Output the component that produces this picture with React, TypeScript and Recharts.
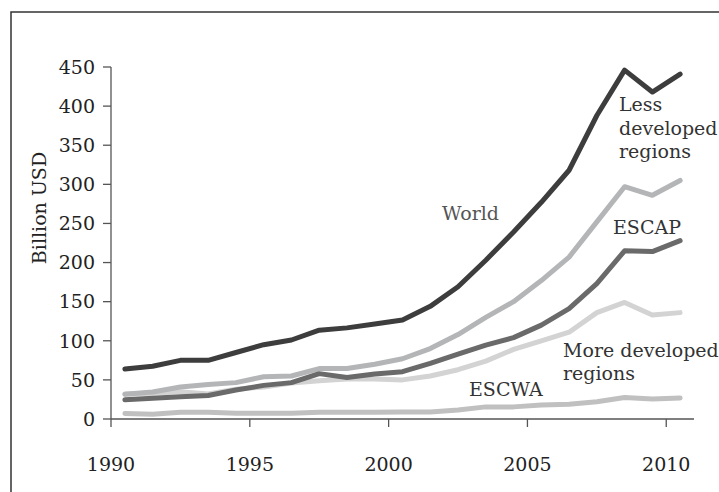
import React from "react";
import { LineChart, Line, XAxis, YAxis } from "recharts";

const years = [1990, 1991, 1992, 1993, 1994, 1995, 1996, 1997, 1998, 1999, 2000, 2001, 2002, 2003, 2004, 2005, 2006, 2007, 2008, 2009, 2010];
const world = [64, 67.5, 75, 75, 85, 95, 101, 113.5, 116.5, 121.5, 126.5, 144, 169, 203, 239, 277, 318, 388, 446, 418, 441];
const lessDeveloped = [31.5, 34.5, 41, 44, 46.5, 54, 55, 64.5, 64.5, 70, 77, 90, 108, 130, 150, 177, 207, 252, 297, 286, 305];
const escap = [24.5, 26.5, 28.5, 30, 37, 43, 46.5, 58, 53, 57.5, 60.5, 71, 83, 94.5, 104, 120, 141, 173, 215, 214, 228];
const moreDeveloped = [32, 33, 35, 32, 38, 41, 46, 49, 51, 51, 50, 55, 63, 74, 89, 100, 111, 136, 149, 133, 136];
const escwa = [7, 6, 8.5, 8.5, 7.5, 7.5, 7.5, 8.5, 8.5, 8.5, 9, 9, 11.5, 15.5, 15.5, 18, 19, 22, 27.5, 25.5, 27];
const xTicks = [1990, 1995, 2000, 2005, 2010];
const yTicks = [0, 50, 100, 150, 200, 250, 300, 350, 400, 450];

const data = years.map((y, i) => ({
  x: y + 0.5,
  world: world[i],
  less: lessDeveloped[i],
  escap: escap[i],
  more: moreDeveloped[i],
  escwa: escwa[i],
}));

const FONT = "'DejaVu Serif', serif";
const tickStyle = { fill: "#222", fontSize: 19, fontFamily: FONT };
const labelStyle: React.CSSProperties = { fontFamily: FONT, fontSize: 19 };

export default function App() {
  return (
    <div style={{ position: "relative", width: 719, height: 492, background: "#fff" }}>
      <style>{`body{margin:0}`}</style>
      <LineChart width={719} height={492} data={data} margin={{ top: 67, right: 25, bottom: 23, left: 51 }}>
        <XAxis
          dataKey="x"
          type="number"
          domain={[1990, 2011]}
          ticks={xTicks}
          tickSize={8}
          tickMargin={31}
          height={50}
          stroke="#555"
          tick={tickStyle}
          axisLine={{ stroke: "#555", strokeWidth: 1.3 }}
          tickLine={{ stroke: "#555", strokeWidth: 1.3 }}
        />
        <YAxis
          type="number"
          domain={[0, 450]}
          ticks={yTicks}
          width={60}
          tickSize={8}
          tickMargin={8}
          stroke="#555"
          tick={tickStyle}
          axisLine={{ stroke: "#555", strokeWidth: 1.3 }}
          tickLine={{ stroke: "#555", strokeWidth: 1.3 }}
        />
        <Line dataKey="more" stroke="#d3d3d3" strokeWidth={5} dot={false} isAnimationActive={false} strokeLinejoin="round" strokeLinecap="round" />
        <Line dataKey="escwa" stroke="#c0c0c0" strokeWidth={5} dot={false} isAnimationActive={false} strokeLinejoin="round" strokeLinecap="round" />
        <Line dataKey="less" stroke="#b3b5b7" strokeWidth={5} dot={false} isAnimationActive={false} strokeLinejoin="round" strokeLinecap="round" />
        <Line dataKey="escap" stroke="#6a6a6a" strokeWidth={5} dot={false} isAnimationActive={false} strokeLinejoin="round" strokeLinecap="round" />
        <Line dataKey="world" stroke="#3d3d3d" strokeWidth={5} dot={false} isAnimationActive={false} strokeLinejoin="round" strokeLinecap="round" />
      </LineChart>
      <svg width={719} height={492} style={{ position: "absolute", left: 0, top: 0, pointerEvents: "none" }}>
        <rect x={11} y={12} width={720} height={500} fill="none" stroke="#333" strokeWidth={1.5} />
        <text x={39} y={208} transform="rotate(-90 39 208)" textAnchor="middle" dominantBaseline="central" fill="#222" style={labelStyle}>Billion USD</text>
        <text x={442} y={220} fill="#555" style={labelStyle}>World</text>
        <text x={613} y={234} fill="#333" style={labelStyle}>ESCAP</text>
        <text x={619} y={111} fill="#333" style={labelStyle}>Less</text>
        <text x={619} y={135} fill="#333" style={labelStyle}>developed</text>
        <text x={619} y={158} fill="#333" style={labelStyle}>regions</text>
        <text x={563} y={357} fill="#333" style={labelStyle}>More developed</text>
        <text x={563} y={380} fill="#333" style={labelStyle}>regions</text>
        <text x={469} y={396} fill="#333" style={labelStyle}>ESCWA</text>
      </svg>
    </div>
  );
}
